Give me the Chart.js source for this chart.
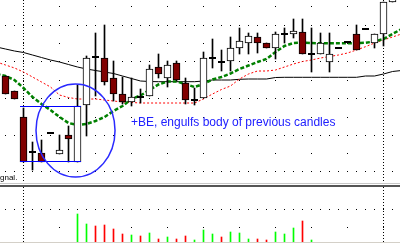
<!DOCTYPE html>
<html><head><meta charset="utf-8">
<script src="https://cdn.jsdelivr.net/npm/chart.js@4.4.1/dist/chart.umd.min.js"></script>
<style>
html,body{margin:0;padding:0;background:#fff;width:400px;height:245px;overflow:hidden}
#wrap{position:relative;width:400px;height:245px;background:#fff}
#main{position:absolute;left:0;top:0}
#vol{position:absolute;left:0;top:187px}
.ln{position:absolute;left:0;width:400px;height:1px}
</style></head><body>
<div id="wrap">
<canvas id="main" width="400" height="183"></canvas>
<div class="ln" style="top:183px;background:#c8c8c8"></div>
<div class="ln" style="top:185px;height:2px;background:#555"></div>
<canvas id="vol" width="400" height="55"></canvas>
<div class="ln" style="top:242px;background:#d4d0c8"></div>
</div>
<script>
// ---- data (price in points) ----
const opens  = [107,92,66,31,30,50,29,48,21,78,126,125,105,89,81,86,87,116,105,120,100,83,85,125,121,122,135,140,146,140,135,149,149,151,129,129,121,135,141,149,154,140,149,181];
const closes = [89,84,21,31,21,50,33,44,77,125,126,101,89,81,86,86,114,109,118,103,83,83,125,125,121,135,142,147,140,135,149,149,152,129,129,140,129,135,141,133,154,149,181,200];
const highs  = [107,92,75,41,43,50,48,57,98,127,150,158,122,106,105,94,118,129,122,122,105,95,131,144,133,146,155,150,150,140,151,155,164,164,155,150,150,135,141,158,154,149,181,200];
const lows   = [89,84,21,13,21,50,29,21,21,47,87,98,82,79,77,80,87,105,96,102,79,78,85,115,112,112,129,129,130,135,124,140,145,129,111,129,111,135,141,133,154,135,137,181];

const maIndex = [-1,0,1,2,3,4,5,6,7,8,9,10,11,12,13,14,15,16,17,18,19,20,21,22,23,24,25,26,27,28,29,30,31,32,33,34,35,36,37,38,39,40,41,42,43,44];
const maFast = [109,107,103,95,86,79,73,66,60,58,59,62,66,72,77,84,87.5,93,98.5,101.5,101.5,99,96,99,103.5,106,109.5,114,117.5,121,124,131,137,140,140.5,140,139.7,139.7,139.7,139.7,140,140.3,141.5,144,149,154];
const maMid  = [121,118,115,111,106,101,96,88,85.5,84,84,84,83,82,81,80.5,80,80,80,80,80,80,80,84,89,93.5,97,104,109,112,112,113,116,119,121.5,123,125,126.5,128,130,133,136.3,140,143,146,149];
const maSlow = [136,134,132,130.5,128,125.5,123,121,118.5,116,114,112.5,111,109.5,107,104.5,102,101.5,101.3,101.3,101.3,101.3,101.3,102,103,103,103,103.7,104,104,104,105.5,105.7,105.7,105.7,105.7,105.7,105.7,105.7,105.7,105.7,107,107,109,111.5,112.5];

const volIndex = [8,9,10,11,12,13,14,15,16,17,18,19,20,21,22,23,24,25,26,27,28,29,30,31,32,33,34];
const volumes  = [28,18,16,17,13,8,7,6,9,3,5,3,6,2,12,8,5,10,9,3,3,2,10,8,14,21,2];
const volDir   = ['up','up','down','down','down','down','up','down','up','down','up','down','down','up','up','up','down','up','up','up','down','down','up','up','up','down','up'];

const priceGrid  = [11.5,29.5,47.5,65.5,84.5,102.5,121.5,139.5,157.5,176.5];
const volumeGrid = [14.5,32.5];
const timeGrid   = [2,42];

const engulfFrom = 2, engulfBar = 8;
const ellipseCenter = [7.78, 52.5], ellipseRadii = [4.39, 46.5];
const noteText = '+BE, engulfs body of previous candles';
const noteAt = [13.94, 57];
const cornerText = 'gnal.';
const cornerAt = [-0.611, 3];

// ---- derived datasets ----
const X_MIN = -0.6111111, X_MAX = 43.8333333;
const idx = opens.map((_, i) => i);
const isDoji = i => opens[i] === closes[i];
const wickData = idx.filter(i => highs[i] > lows[i]).map(i => ({x: i, y: [lows[i], highs[i]]}));
const bodyIdx = idx.filter(i => !isDoji(i));
const bodyData = bodyIdx.map(i => ({x: i, y: [opens[i], closes[i]]}));
const bodyColors = bodyIdx.map(i => closes[i] > opens[i] ? '#ffffff' : '#800000');
const dojiData = idx.filter(isDoji).map(i => ({x: i, y: opens[i]}));
const toXY = (xs, ys) => xs.map((x, k) => ({x, y: ys[k]}));
const half = 3.5 / 9;
const engulfTop = [{x: engulfFrom - half, y: closes[engulfBar] - 0.5}, {x: engulfBar + half, y: closes[engulfBar] - 0.5}];
const engulfBot = [{x: engulfFrom - half, y: opens[engulfBar] + 0.5}, {x: engulfBar + half, y: opens[engulfBar] + 0.5}];

function gridAxisY(ticks, min, max, denseParity) {
  return {
    type: 'linear', min, max, bounds: 'data', display: true,
    afterBuildTicks: s => { s.ticks = ticks.map(v => ({value: v})); },
    ticks: {display: false},
    grid: {color: '#000', lineWidth: 1, drawTicks: false},
    border: {display: false,
      dash: c => (c.index % 2 === denseParity) ? [1, 8] : [1, 35],
      dashOffset: c => (c.index % 2 === denseParity) ? 4 : 13}
  };
}
function gridAxisX() {
  return {
    type: 'linear', min: X_MIN, max: X_MAX, bounds: 'data', offset: false, display: true,
    afterBuildTicks: s => { s.ticks = timeGrid.map(v => ({value: v})); },
    ticks: {display: false},
    grid: {color: '#000', lineWidth: 1, drawTicks: false, offset: false},
    border: {display: false, dash: [1, 2], dashOffset: 0}
  };
}

const notes = {
  id: 'notes',
  afterDatasetsDraw(chart) {
    const {ctx, scales: {x, y}} = chart;
    ctx.save();
    const cx = x.getPixelForValue(ellipseCenter[0]);
    const cy = y.getPixelForValue(ellipseCenter[1]);
    const rx = Math.abs(x.getPixelForValue(ellipseCenter[0] + ellipseRadii[0]) - cx);
    const ry = Math.abs(y.getPixelForValue(ellipseCenter[1] + ellipseRadii[1]) - cy);
    ctx.beginPath();
    ctx.ellipse(cx, cy, rx, ry, 0, 0, Math.PI * 2);
    ctx.strokeStyle = '#2a2aff';
    ctx.lineWidth = 1.5;
    ctx.stroke();
    ctx.font = '12px "Liberation Sans", Arial, sans-serif';
    ctx.fillStyle = '#2020ff';
    ctx.textBaseline = 'alphabetic';
    ctx.textAlign = 'left';
    ctx.fillText(noteText, x.getPixelForValue(noteAt[0]), y.getPixelForValue(noteAt[1]));
    ctx.font = '8px "Liberation Sans", Arial, sans-serif';
    ctx.fillStyle = '#000';
    ctx.fillText(cornerText, x.getPixelForValue(cornerAt[0]), y.getPixelForValue(cornerAt[1]));
    ctx.restore();
  }
};

new Chart(document.getElementById('main'), {
  type: 'bar',
  data: {
    datasets: [
      {type: 'line', data: toXY(maIndex, maSlow), borderColor: '#000', borderWidth: 1, pointRadius: 0, tension: 0, order: 6},
      {type: 'line', data: toXY(maIndex, maMid), borderColor: '#ff0000', borderWidth: 1, borderDash: [2, 2], pointRadius: 0, tension: 0, order: 5},
      {type: 'line', data: toXY(maIndex, maFast), borderColor: '#008000', borderWidth: 2.5, borderDash: [4, 2], pointRadius: 0, tension: 0, order: 4},
      {type: 'bar', data: wickData, backgroundColor: '#000', borderWidth: 0, barThickness: 1, grouped: false, order: 3},
      {type: 'bar', data: bodyData, backgroundColor: bodyColors, borderColor: '#000', borderWidth: 1, borderSkipped: false, barThickness: 7, grouped: false, order: 2},
      {type: 'scatter', data: dojiData, pointStyle: 'line', radius: 3.5, borderWidth: 2, borderColor: '#000', backgroundColor: '#000', order: 1},
      {type: 'line', data: engulfTop, borderColor: '#0000ff', borderWidth: 1, pointRadius: 0, order: 0},
      {type: 'line', data: engulfBot, borderColor: '#0000ff', borderWidth: 1, pointRadius: 0, order: 0}
    ]
  },
  options: {
    responsive: false, animation: false, events: [],
    layout: {padding: 0, autoPadding: false},
    plugins: {legend: {display: false}, tooltip: {enabled: false}},
    scales: {x: gridAxisX(), y: gridAxisY(priceGrid, 0, 183, 0)}
  },
  plugins: [notes]
});

new Chart(document.getElementById('vol'), {
  type: 'bar',
  data: {
    datasets: [{
      data: toXY(volIndex, volumes),
      backgroundColor: volDir.map(d => d === 'up' ? '#00ff00' : '#ff0000'),
      borderWidth: 0, barThickness: 1, grouped: false
    }]
  },
  options: {
    responsive: false, animation: false, events: [],
    layout: {padding: 0, autoPadding: false},
    plugins: {legend: {display: false}, tooltip: {enabled: false}},
    scales: {x: gridAxisX(), y: gridAxisY(volumeGrid, 0, 55, 1)}
  }
});
</script>
</body></html>
